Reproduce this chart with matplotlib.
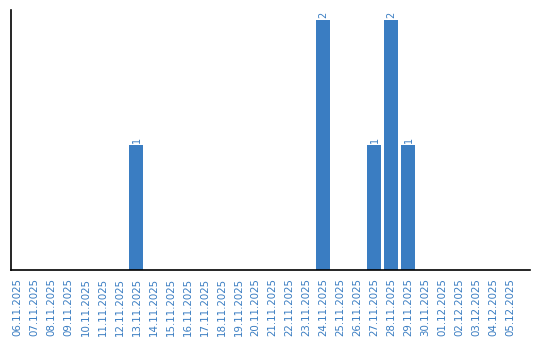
import matplotlib
matplotlib.use("Agg")
import matplotlib.pyplot as plt
import pandas as pd

dates = pd.date_range("2025-11-06", "2025-12-05", freq="D")
labels = [d.strftime("%d.%m.%Y") for d in dates]
event_dates = ["13.11.2025", "24.11.2025", "27.11.2025", "28.11.2025", "29.11.2025"]
event_counts = [1, 2, 1, 2, 1]

counts = dict(zip(event_dates, event_counts))
values = [counts.get(l, 0) for l in labels]

blue = "#3a7dc2"
fig = plt.figure(figsize=(5.4, 3.4), dpi=100)
ax = fig.add_axes([10.5 / 540, 70.5 / 340, 519.5 / 540, 259.5 / 340])
x = list(range(len(labels)))
ax.bar(x, values, width=0.82, color=blue)
for xi, v in zip(x, values):
    if v > 0:
        ax.text(xi, v + 0.015, str(v), rotation=90, ha="center", va="bottom",
                color=blue, fontsize=7)
ax.set_xlim(-0.41, 30.15)
ax.set_ylim(0, 2.08)
ax.set_xticks(x)
ax.set_xticklabels(labels, rotation=90, color=blue, fontsize=7.4)
ax.tick_params(axis="x", length=0, pad=6)
ax.set_yticks([])
for s in ["top", "right"]:
    ax.spines[s].set_visible(False)
for s in ["left", "bottom"]:
    ax.spines[s].set_linewidth(1.2)
fig.savefig("out.png", dpi=100)
